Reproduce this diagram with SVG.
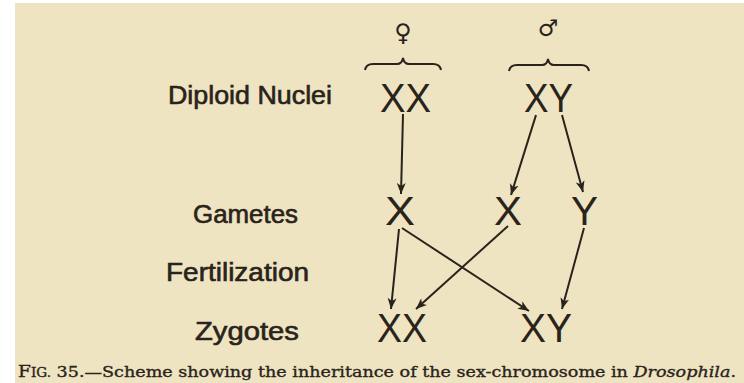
<svg xmlns="http://www.w3.org/2000/svg" width="744" height="383" viewBox="0 0 744 383">
<defs>
<style>
.bg{fill:#EEE4C1}
.lbl{font-family:"Liberation Sans",Arial,sans-serif;font-size:25px;fill:#2a231b;stroke:#2a231b;stroke-width:0.6}
.chr{font-family:"Liberation Sans",Arial,sans-serif;font-size:41px;fill:#2a231b}
.sym{font-family:"DejaVu Sans",sans-serif;fill:#2a231b;text-anchor:middle}
.cap{font-family:"DejaVu Serif","Liberation Serif",serif;font-size:15.5px;fill:#2a231b;stroke:#2a231b;stroke-width:0.35}
.con{stroke:#2a231b;stroke-width:2;fill:none;marker-end:url(#ah)}
.brace{stroke:#2a231b;stroke-width:2;fill:none}
</style>
<marker id="ah" markerUnits="userSpaceOnUse" markerWidth="12" markerHeight="10" refX="11" refY="5" orient="auto">
<path d="M0,0.5 L11,5 L0,9.5 L3,5 z" fill="#2a231b"/>
</marker>
</defs>
<rect x="0" y="0" width="744" height="383" fill="#ffffff"/>
<rect class="bg" x="15" y="3" width="729" height="380"/>

<g id="female-symbol"><text class="sym" x="403" y="41" font-size="24">♀</text></g>
<g id="male-symbol"><text class="sym" x="548" y="36" font-size="23">♂</text></g>
<g id="female-brace"><path class="brace" d="M365,70 Q366,64 373,64 L397,64 Q402,64 403,58 Q404,64 409,64 L433,64 Q440,64 441,70"/></g>
<g id="male-brace"><path class="brace" d="M509,71 Q510,65 517,65 L542,65 Q547,65 548,59 Q549,65 554,65 L581,65 Q588,65 589,71"/></g>

<g id="label-diploid"><text class="lbl" x="168" y="104" textLength="164" lengthAdjust="spacingAndGlyphs">Diploid Nuclei</text></g>
<g id="label-gametes"><text class="lbl" x="193" y="223" textLength="105" lengthAdjust="spacingAndGlyphs">Gametes</text></g>
<g id="label-fertilization"><text class="lbl" x="166" y="281" textLength="143" lengthAdjust="spacingAndGlyphs">Fertilization</text></g>
<g id="label-zygotes"><text class="lbl" x="195" y="340" textLength="104" lengthAdjust="spacingAndGlyphs">Zygotes</text></g>

<g id="diploid-XX"><text class="chr" x="380" y="112" textLength="51" lengthAdjust="spacingAndGlyphs">XX</text></g>
<g id="diploid-XY"><text class="chr" x="524" y="112" textLength="49" lengthAdjust="spacingAndGlyphs">XY</text></g>
<g id="gamete-X-female"><text class="chr" x="385" y="225" textLength="30" lengthAdjust="spacingAndGlyphs">X</text></g>
<g id="gamete-X-male"><text class="chr" x="494" y="225" textLength="28" lengthAdjust="spacingAndGlyphs">X</text></g>
<g id="gamete-Y-male"><text class="chr" x="571" y="225" textLength="27" lengthAdjust="spacingAndGlyphs">Y</text></g>
<g id="zygote-XX"><text class="chr" x="377" y="342" textLength="50" lengthAdjust="spacingAndGlyphs">XX</text></g>
<g id="zygote-XY"><text class="chr" x="520" y="342" textLength="52" lengthAdjust="spacingAndGlyphs">XY</text></g>

<g id="connectors">
<line class="con" x1="403" y1="114" x2="401" y2="194"/>
<line class="con" x1="536" y1="115" x2="511" y2="195"/>
<line class="con" x1="562" y1="115" x2="583" y2="192"/>
<line class="con" x1="399" y1="229" x2="391" y2="309"/>
<line class="con" x1="402" y1="228" x2="529" y2="311"/>
<line class="con" x1="508" y1="226" x2="416" y2="309"/>
<line class="con" x1="584" y1="228" x2="562" y2="309"/>
</g>

<g id="caption"><text class="cap" x="18" y="377" textLength="718" lengthAdjust="spacingAndGlyphs"><tspan font-size="16.5">F</tspan><tspan font-size="12">IG.</tspan> 35.—Scheme showing the inheritance of the sex-chromosome in <tspan font-style="italic">Drosophila</tspan>.</text></g>
</svg>
